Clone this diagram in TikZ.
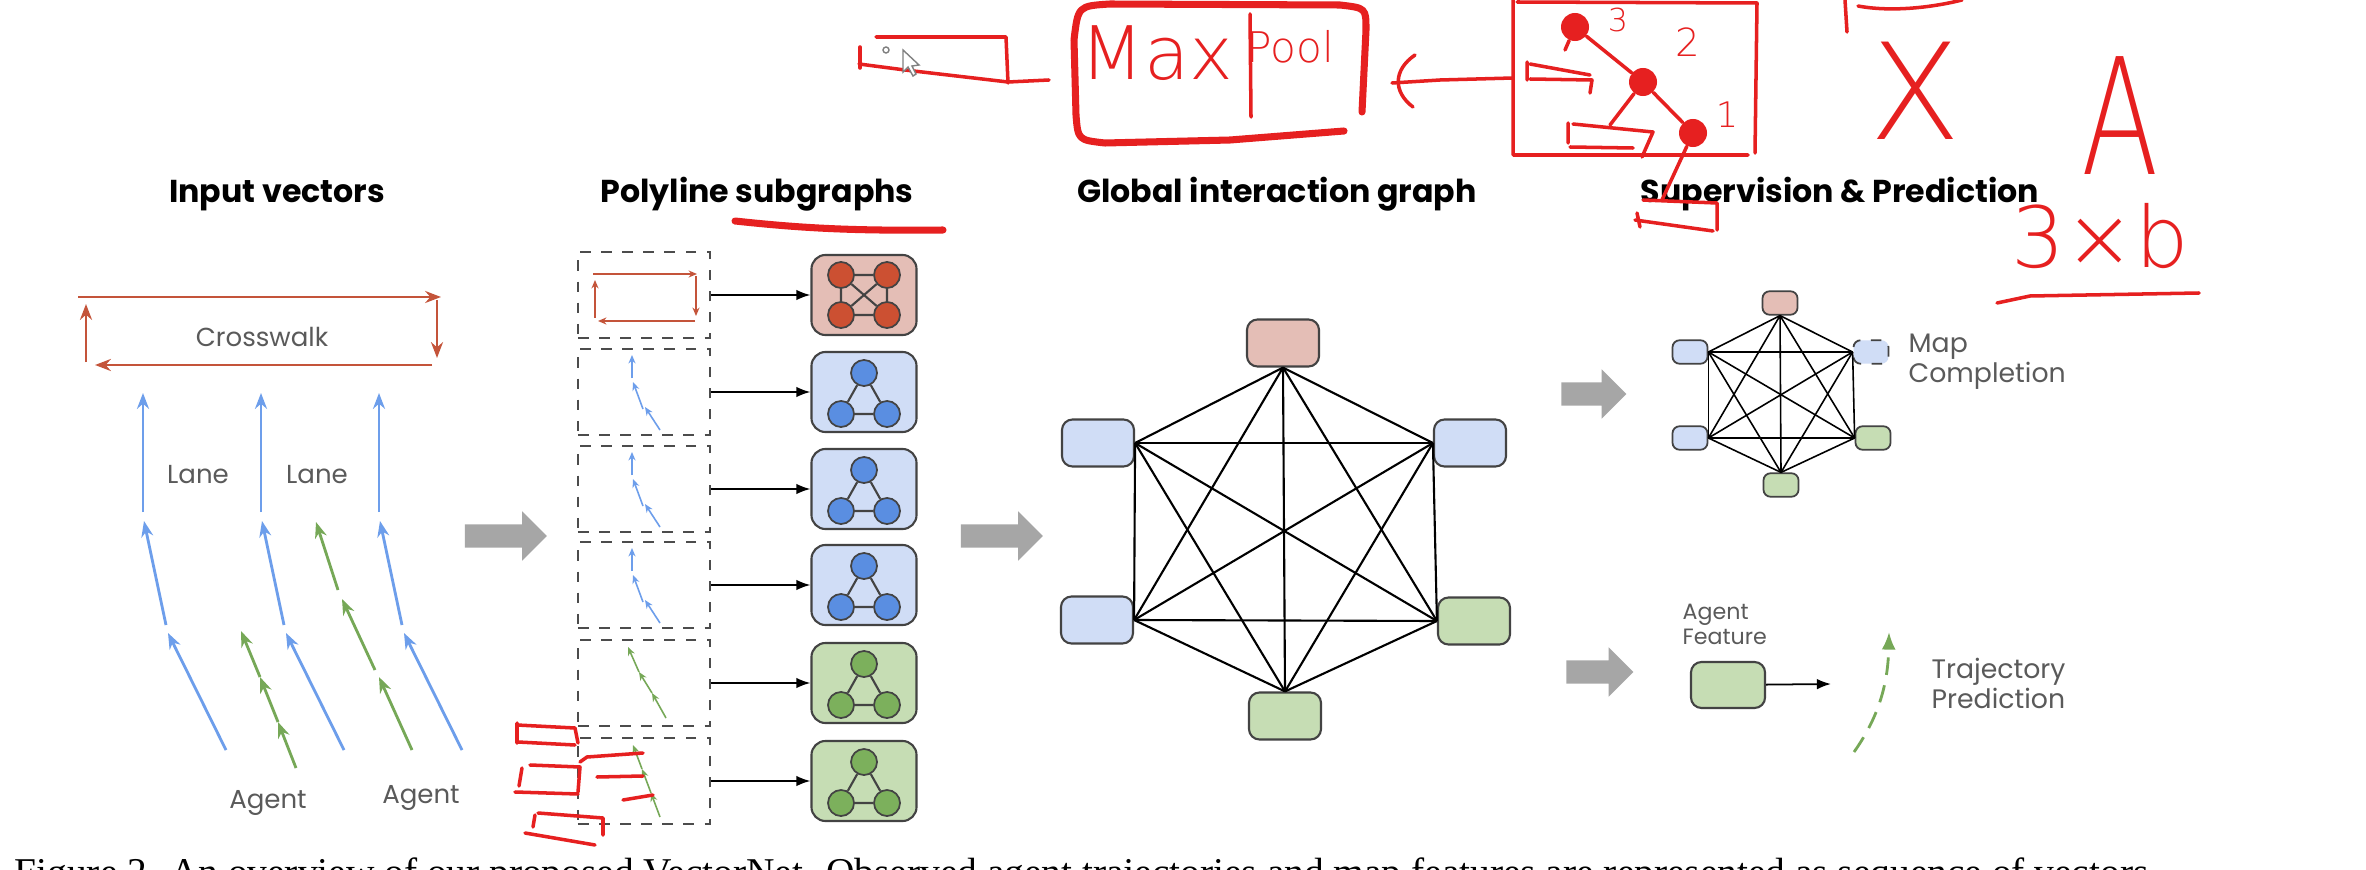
\documentclass[tikz,border=0pt]{standalone}
\usepackage{fontspec}
\setmainfont{Poppins}
\IfFontExistsTF{DejaVuSans-ExtraLight.ttf}
  {\newfontfamily\inkfont{DejaVuSans-ExtraLight.ttf}}
  {\newfontfamily\inkfont{Liberation Sans}}
\newfontfamily\capfont{Liberation Serif}
\usetikzlibrary{arrows.meta,shapes.arrows}

\definecolor{crossred}{RGB}{196,84,58}
\definecolor{laneblue}{RGB}{109,158,235}
\definecolor{agentgreen}{RGB}{118,168,87}
\definecolor{redfill}{RGB}{228,190,182}
\definecolor{redcirc}{RGB}{204,80,50}
\definecolor{bluefill}{RGB}{208,221,246}
\definecolor{bluecirc}{RGB}{90,142,225}
\definecolor{greenfill}{RGB}{198,221,180}
\definecolor{greencirc}{RGB}{124,176,92}
\definecolor{edgegray}{RGB}{67,67,67}
\definecolor{flowgray}{RGB}{166,166,166}
\definecolor{labelgray}{RGB}{90,90,90}
\definecolor{inkred}{RGB}{230,32,32}

\begin{document}
\begin{tikzpicture}[x=0.01cm, y=-0.01cm,
    title/.style={font=\fontsize{9}{11}\selectfont\bfseries, anchor=base},
    lbl/.style={font=\fontsize{7.4}{9}\selectfont, text=labelgray, inner sep=0pt},
    vec/.style={line width=0.8pt, -{Stealth[length=4.5pt,width=3.4pt]}},
    cross/.style={vec, draw=crossred}, lane/.style={vec, draw=laneblue}, agent/.style={vec, draw=agentgreen},
    fine/.style={line width=0.45pt, -{Stealth[length=2.4pt,width=2pt]}},
    inbox/.style={draw=black!70, dashed, line width=0.5pt, minimum width=1.32cm, minimum height=0.86cm},
    sub/.style={draw=edgegray, line width=0.6pt, rounded corners=4pt, minimum width=1.05cm, minimum height=0.8cm},
    dot/.style={circle, draw=edgegray, line width=0.5pt, minimum size=0.26cm, inner sep=0pt},
    gnode/.style={draw=edgegray, line width=0.6pt, rounded corners=3pt, minimum width=0.72cm, minimum height=0.47cm},
    mnode/.style={draw=edgegray, line width=0.5pt, rounded corners=2pt, minimum width=0.35cm, minimum height=0.22cm},
    link/.style={line width=0.6pt},
    flow/.style={single arrow, fill=flowgray, inner xsep=0pt, inner ysep=0.11cm, single arrow head extend=0.13cm, single arrow head indent=0pt, minimum height=0.82cm},
    ink/.style={draw=inkred, line width=1pt, line cap=round, line join=round},
    thickink/.style={ink, line width=2pt},
    inkdot/.style={circle, fill=inkred, minimum size=0.28cm, inner sep=0pt},
    inktext/.style={text=inkred, inner sep=0pt, anchor=base}]
    \fill[white] (0,0) rectangle (2366,870);
    \useasboundingbox (0,0) rectangle (2366,870);

    \node[title] (t-input) at (277,203) {Input vectors};
    \node[title] (t-poly) at (757,203) {Polyline subgraphs};
    \node[title] (t-global) at (1277,203) {Global interaction graph};
    \node[title] (t-sup) at (1840,203) {Supervision \& Prediction};

    % input vectors
    \draw[cross] (78,297) -- (441,297);
    \draw[cross] (437,300) -- (437,358);
    \draw[cross] (432,365) -- (95,365);
    \draw[cross] (86,362) -- (86,304);
    \node[lbl, anchor=base] (crosswalk) at (262,347) {Crosswalk};
    \foreach \dx in {0,118,236} {
      \draw[lane] (143+\dx,512) -- (143+\dx,393);
      \draw[lane] (166+\dx,625) -- (144+\dx,521);
      \draw[lane] (226+\dx,750) -- (168+\dx,633);
    }
    \draw[agent] (296,768) -- (278,722);
    \draw[agent] (278,722) -- (260,677);
    \draw[agent] (260,677) -- (241,631);
    \draw[agent] (412,750) -- (379,677);
    \draw[agent] (375,670) -- (342,599);
    \draw[agent] (338,590) -- (316,522);
    \node[lbl, anchor=base] (lane1) at (198,483) {Lane};
    \node[lbl, anchor=base] (lane2) at (317,483) {Lane};
    \node[lbl, anchor=base] (agent1) at (268,808) {Agent};
    \node[lbl, anchor=base] (agent2) at (421,803) {Agent};

    \node[flow] (arr1) at (500,536) {};

    % polyline subgraphs
    \foreach \y [count=\i] in {295,392,489,585,683,781}
      \node[inbox] (in\i) at (644,\y) {};
    \node[sub, fill=redfill] (sg1) at (864,295) {};
    \node[sub, fill=bluefill] (sg2) at (864,392) {};
    \node[sub, fill=bluefill] (sg3) at (864,489) {};
    \node[sub, fill=bluefill] (sg4) at (864,585) {};
    \node[sub, fill=greenfill] (sg5) at (864,683) {};
    \node[sub, fill=greenfill] (sg6) at (864,781) {};
    \foreach \i in {1,...,6}
      \draw[line width=0.5pt, -{Latex[length=4pt,width=3pt]}] (in\i) -- (sg\i);

    \node[dot, fill=redcirc] (r1) at (841,275) {};
    \node[dot, fill=redcirc] (r2) at (887,275) {};
    \node[dot, fill=redcirc] (r3) at (841,315) {};
    \node[dot, fill=redcirc] (r4) at (887,315) {};
    \draw[link, draw=edgegray] (r1) -- (r2) -- (r4) -- (r3) -- (r1) (r1) -- (r4) (r2) -- (r3);
    \foreach \y/\c [count=\i from 2] in {392/bluecirc,489/bluecirc,585/bluecirc,683/greencirc,781/greencirc} {
      \node[dot, fill=\c] (t\i-a) at (864,\y-19) {};
      \node[dot, fill=\c] (t\i-b) at (841,\y+22) {};
      \node[dot, fill=\c] (t\i-c) at (887,\y+22) {};
      \draw[link, draw=edgegray] (t\i-a) -- (t\i-b) -- (t\i-c) -- (t\i-a);
    }

    \begin{scope}[shift={(644,295)}, crossred]
      \draw[fine] (-51,-21) -- (53,-21);
      \draw[fine] (52,-19) -- (52,21);
      \draw[fine] (51,26) -- (-46,26);
      \draw[fine] (-49,23) -- (-49,-15);
    \end{scope}
    \foreach \y in {392,489,585} {
      \begin{scope}[shift={(644,\y)}, laneblue]
        \draw[fine] (16,38) -- (1,15);
        \draw[fine] (-1,17) -- (-11,-10);
        \draw[fine] (-12,-14) -- (-12,-37);
      \end{scope}
    }
    \begin{scope}[shift={(644,683)}, agentgreen]
      \draw[fine] (22,35) -- (8,10);
      \draw[fine] (8,10) -- (-5,-11);
      \draw[fine] (-5,-11) -- (-16,-36);
    \end{scope}
    \begin{scope}[shift={(644,781)}, agentgreen]
      \draw[fine] (16,36) -- (7,12);
      \draw[fine] (7,12) -- (-2,-12);
      \draw[fine] (-2,-12) -- (-11,-36);
    \end{scope}

    \node[flow] (arr2) at (996,536) {};

    % global interaction graph
    \node[gnode, fill=redfill] (g1) at (1283,343) {};
    \node[gnode, fill=bluefill] (g2) at (1098,443) {};
    \node[gnode, fill=bluefill] (g3) at (1470,443) {};
    \node[gnode, fill=bluefill] (g4) at (1097,620) {};
    \node[gnode, fill=greenfill] (g5) at (1474,621) {};
    \node[gnode, fill=greenfill] (g6) at (1285,716) {};
    \foreach \a [count=\i] in {g1.south,g2.east,g3.west,g4.east,g5.west,g6.north}
      \foreach \b [count=\j] in {g1.south,g2.east,g3.west,g4.east,g5.west,g6.north}
        {\ifnum\j>\i \draw[link] (\a) -- (\b); \fi}

    % supervision and prediction
    \node[flow, minimum height=0.65cm] (arr3) at (1588,394) {};
    \node[mnode, fill=redfill] (m1) at (1780,303) {};
    \node[mnode, fill=bluefill] (m2) at (1690,352) {};
    \node[mnode, fill=bluefill, dashed] (m3) at (1871,352) {};
    \node[mnode, fill=bluefill] (m4) at (1690,438) {};
    \node[mnode, fill=greenfill] (m5) at (1873,438) {};
    \node[mnode, fill=greenfill] (m6) at (1781,485) {};
    \foreach \a [count=\i] in {m1.south,m2.east,m3.west,m4.east,m5.west,m6.north}
      \foreach \b [count=\j] in {m1.south,m2.east,m3.west,m4.east,m5.west,m6.north}
        {\ifnum\j>\i \draw[line width=0.45pt] (\a) -- (\b); \fi}
    \node[lbl, anchor=north west, align=left, font=\fontsize{7.6}{8.5}\selectfont] (mapc) at (1908,333) {Map\\Completion};

    \node[flow, minimum height=0.67cm] (arr4) at (1594,672) {};
    \node[lbl, anchor=north west, align=left, font=\fontsize{6.3}{7.1}\selectfont] (afl) at (1682,603) {Agent\\Feature};
    \node[gnode, fill=greenfill, minimum width=0.74cm, minimum height=0.46cm] (af) at (1728,685) {};
    \coordinate (af-end) at (1831,684);
    \draw[line width=0.5pt, -{Latex[length=4pt,width=3pt]}] (af) -- (af-end);
    \coordinate (traj-s) at (1854,752);
    \coordinate (traj-e) at (1889,632);
    \draw[agentgreen, line width=0.8pt, dash pattern=on 5pt off 3pt, -{Latex[length=5pt,width=4pt]}] (traj-s) .. controls (1878,718) and (1888,685) .. (traj-e);
    \node[lbl, anchor=north west, align=left, font=\fontsize{7.6}{8.8}\selectfont] (trajl) at (1931,657) {Trajectory\\Prediction};

    % caption, cut off at the bottom
    \node[anchor=north west, inner sep=0pt, font=\capfont\fontsize{11.2}{13}\selectfont] (cap) at (14,857)
      {Figure 2. An overview of our proposed VectorNet. Observed agent trajectories and map features are represented as sequence of vectors};

    % handwritten notes
    \draw[thickink] (735,221) .. controls (800,228) and (850,231) .. (943,230);
    \draw[ink] (860,47) -- (860,68);
    \draw[ink] (859,64) -- (905,70) -- (1008,82) -- (1049,80);
    \draw[ink] (876,37) -- (1006,37) -- (1008,83);
    \draw[gray, line width=0.4pt] (886,50) circle (3);
    \draw[fill=white, draw=gray, line width=0.4pt] (903,50) -- (903,72) -- (908,67) -- (913,76) -- (916,74) -- (912,66) -- (919,65) -- cycle;
    \draw[thickink] (1362,112) -- (1366,30) .. controls (1366,8) .. (1340,5) -- (1110,4) .. controls (1078,6) .. (1074,40) -- (1076,115) .. controls (1078,140) .. (1105,143) -- (1230,140) -- (1344,131);
    \node[inktext, font=\inkfont\fontsize{21}{21}\selectfont] (maxp) at (1157,80) {Max};
    \node[inktext, anchor=base west, font=\inkfont\fontsize{12}{12}\selectfont] (pool) at (1246,63) {Pool};
    \draw[ink] (1250,14) -- (1251,117);
    \draw[ink] (1513,78) -- (1440,80) -- (1392,83);
    \draw[ink] (1415,55) .. controls (1393,70) and (1393,92) .. (1413,107);
    \draw[ink] (1517,2) -- (1757,3) -- (1755,153) (1513,0) -- (1513,155) -- (1748,155);
    \node[inkdot] (h3) at (1575,27) {};
    \node[inkdot] (h2) at (1643,82) {};
    \node[inkdot] (h1) at (1693,133) {};
    \coordinate (h3-t) at (1565,50);
    \coordinate (h2-t) at (1610,125);
    \coordinate (h1-t) at (1662,200);
    \draw[ink] (h3) -- (h2) -- (h1);
    \draw[ink] (h3) -- (h3-t);
    \draw[ink] (h2) -- (h2-t);
    \draw[ink] (h1) -- (h1-t);
    \node[inktext, font=\inkfont\fontsize{9}{9}\selectfont] (n3) at (1618,32) {3};
    \node[inktext, font=\inkfont\fontsize{11}{11}\selectfont] (n2) at (1688,57) {2};
    \node[inktext, font=\inkfont\fontsize{10}{10}\selectfont] (n1) at (1727,128) {1};
    \draw[ink] (1527,62) -- (1527,80) (1530,64) -- (1590,75) (1530,79) -- (1592,80) -- (1590,93);
    \draw[ink] (1568,123) -- (1568,143) (1573,124) -- (1653,132) -- (1642,157) (1570,147) -- (1633,148);
    \draw[ink] (1643,200) -- (1717,203) -- (1717,230) (1635,220) -- (1713,231) (1637,213) -- (1640,227);
    \draw[ink] (1845,0) -- (1847,32) (1858,6) .. controls (1890,12) and (1930,8) .. (1962,0);
    \node[inktext, font=\inkfont\fontsize{38}{38}\selectfont] (xmat) at (1915,140) {X};
    \node[inktext, font=\inkfont\fontsize{46}{46}\selectfont] (amat) at (2120,175) {\scalebox{0.7}[1]{A}};
    \node[inktext, font=\inkfont\fontsize{24}{24}\selectfont] (dims) at (2100,268) {3×b};
    \draw[ink] (1997,303) -- (2030,296) -- (2199,293);
    \draw[ink] (517,723) -- (517,743) (517,725) -- (575,728) -- (578,743) (518,742) -- (575,745);
    \draw[ink] (530,765) -- (580,767) -- (578,792) (522,768) -- (519,786) (515,792) -- (578,794);
    \draw[ink] (580,762) -- (587,757) -- (643,753) (597,777) -- (643,776) (623,800) -- (653,795);
    \draw[ink] (538,813) -- (603,818) -- (603,835) (535,815) -- (533,827) (525,833) -- (595,845);
\end{tikzpicture}
\end{document}
